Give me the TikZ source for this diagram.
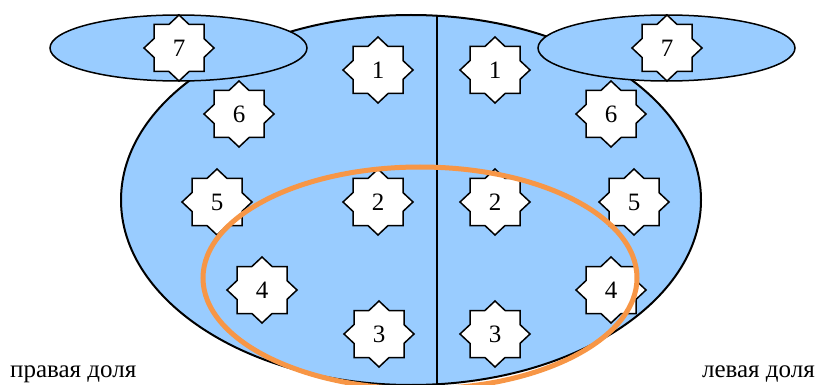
\documentclass[tikz,border=0pt]{standalone}
\usepackage{fontspec}
\setmainfont{Liberation Serif}
\definecolor{lobe}{HTML}{99CCFF}
\definecolor{ring}{HTML}{F79646}
\tikzset{
  lobefill/.style={fill=lobe, draw=black, line width=2pt},
  capfill/.style={fill=lobe, draw=black, line width=1.5pt},
  starline/.style={fill=white, draw=black, line width=1.5pt, line join=miter},
  starlabel/.style={inner sep=0pt, font=\fontsize{25}{25}\selectfont},
  divider/.style={draw=black, line width=1.5pt},
  ringline/.style={draw=ring, line width=5pt},
  caption/.style={font=\fontsize{25}{25}\selectfont, inner sep=0pt}
}
% eight-pointed segment marker: a square and a diamond merged, with a named label node
\newcommand\segstar[3]{%
  \draw[starline, shift={(#2)}]
    (35,0) -- (25,9.4) -- (25,23.5) -- (10.1,23.5) -- (0,33)
    -- (-10.1,23.5) -- (-25,23.5) -- (-25,9.4) -- (-35,0)
    -- (-25,-9.4) -- (-25,-23.5) -- (-10.1,-23.5) -- (0,-33)
    -- (10.1,-23.5) -- (25,-23.5) -- (25,-9.4) -- cycle;
  \node[starlabel] (#1) at (#2) {#3};%
}
\begin{document}
\begin{tikzpicture}[x=1pt, y=-1pt]
  \useasboundingbox (0,0) rectangle (817,385);
  \clip (0,0) rectangle (817,385);
  % body of the organ
  \draw[lobefill] (411,200) ellipse [x radius=290, y radius=185];
  % midline between the two lobes
  \coordinate (midtop) at (437,15.7);
  \coordinate (midbottom) at (437,390);
  \draw[divider] (midtop) -- (midbottom);
  % upper caps
  \draw[capfill] (178.5,48) ellipse [x radius=128.5, y radius=33];
  \draw[capfill] (666.5,48) ellipse [x radius=128.5, y radius=33];
  % segments, right lobe (left side)
  \segstar{s7L}{179,48}{7}
  \segstar{s1L}{378,70}{1}
  \segstar{s6L}{239,114}{6}
  \segstar{s5L}{217,202}{5}
  \segstar{s2L}{378,202}{2}
  \segstar{s4L}{262,290}{4}
  \segstar{s3L}{379,334}{3}
  % segments, left lobe (right side)
  \segstar{s7R}{667,48}{7}
  \segstar{s1R}{495,70}{1}
  \segstar{s6R}{611,114}{6}
  \segstar{s5R}{634,202}{5}
  \segstar{s2R}{495,202}{2}
  \segstar{s4R}{611,290}{4}
  \segstar{s3R}{495,334}{3}
  % highlighted zone
  \draw[ringline] (420,278) ellipse [x radius=217, y radius=111];
  % lobe captions
  \node[caption, anchor=base west] (capR) at (10,377) {правая доля};
  \node[caption, anchor=base east] (capL) at (815,377) {левая доля};
\end{tikzpicture}
\end{document}
